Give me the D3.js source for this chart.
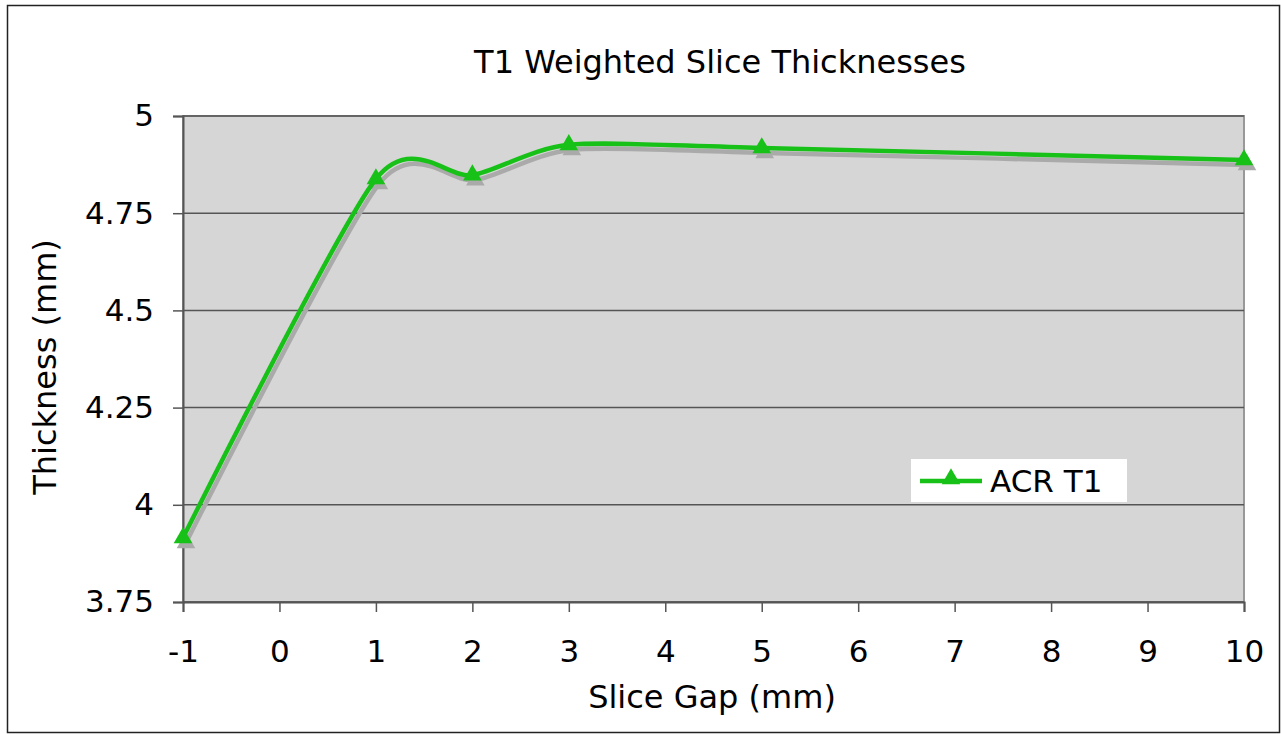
<!DOCTYPE html>
<html>
<head>
<meta charset="utf-8">
<script src="https://cdn.jsdelivr.net/npm/d3@7"></script>
<style>
  body { margin: 0; background: #fff; }
  text { font-family: "DejaVu Sans", Verdana, sans-serif; fill: #000; }
</style>
</head>
<body>
<div id="wrapper"></div>
<script>
// data
const sliceGap = [-1, 1, 2, 3, 5, 10]
const thickness = [3.915, 4.838, 4.848, 4.926, 4.918, 4.887]
const xTicks = [-1, 0, 1, 2, 3, 4, 5, 6, 7, 8, 9, 10]
const yTicks = [3.75, 4, 4.25, 4.5, 4.75, 5]
const seriesName = "ACR T1"

function drawChart(){
    const dataset = sliceGap.map((g, i) => [g, thickness[i]])
    const xAccessor = d => d[0]
    const yAccessor = d => d[1]

    let dimensions = {
        width: 1281,
        height: 734,
        margin: { top: 116, right: 37, bottom: 132, left: 183 },
    }
    dimensions.boundedWidth = dimensions.width - dimensions.margin.left - dimensions.margin.right
    dimensions.boundedHeight = dimensions.height - dimensions.margin.top - dimensions.margin.bottom

    const wrapper = d3.select("#wrapper")
        .append("svg")
        .attr("width", dimensions.width)
        .attr("height", dimensions.height)

    // outer frame
    wrapper.append("rect")
        .attr("x", 7.5).attr("y", 5.5)
        .attr("width", 1272).attr("height", 727)
        .attr("fill", "#fff")
        .attr("stroke", "#222")
        .attr("stroke-width", 1.5)

    const bounds = wrapper.append("g")
        .attr("transform", `translate(${dimensions.margin.left},${dimensions.margin.top})`)

    const xScale = d3.scaleLinear()
        .domain([-1, 10])
        .range([0, dimensions.boundedWidth])
    const yScale = d3.scaleLinear()
        .domain([3.75, 5])
        .range([dimensions.boundedHeight, 0])

    // plot area
    bounds.append("rect")
        .attr("width", dimensions.boundedWidth)
        .attr("height", dimensions.boundedHeight)
        .attr("fill", "#d6d6d6")
        .attr("stroke", "#999")
        .attr("stroke-width", 2)

    // gridlines
    bounds.append("g")
        .selectAll("line")
        .data(yTicks)
        .join("line")
        .attr("x1", 0)
        .attr("x2", dimensions.boundedWidth)
        .attr("y1", d => yScale(d))
        .attr("y2", d => yScale(d))
        .attr("stroke", "#555")
        .attr("stroke-width", 1.5)

    // axes
    const xAxisGenerator = d3.axisBottom(xScale)
        .tickValues(xTicks)
        .tickSize(10)
        .tickPadding(28)
        .tickFormat(d => String(d))
    const yAxisGenerator = d3.axisLeft(yScale)
        .tickValues(yTicks)
        .tickSize(10)
        .tickPadding(19)
        .tickFormat(d => String(d))

    const xAxis = bounds.append("g")
        .attr("transform", `translate(0,${dimensions.boundedHeight})`)
        .call(xAxisGenerator)
    const yAxis = bounds.append("g")
        .call(yAxisGenerator)

    ;[xAxis, yAxis].forEach(ax => {
        ax.select(".domain").attr("stroke", "#555").attr("stroke-width", 2)
        ax.selectAll(".tick line").attr("stroke", "#555").attr("stroke-width", 1.5)
        ax.selectAll(".tick text")
            .attr("font-size", 31)
            .attr("font-family", "DejaVu Sans")
            .attr("fill", "#000")
    })

    // line (smoothed) with shadow
    const lineGenerator = d3.line()
        .x(d => xScale(xAccessor(d)))
        .y(d => yScale(yAccessor(d)))
        .curve(d3.curveCardinal.tension(0.25))

    const triangle = d3.symbol().type(d3.symbolTriangle).size(150)

    const shadow = bounds.append("g").attr("transform", "translate(3,5)")
    shadow.append("path")
        .attr("d", lineGenerator(dataset))
        .attr("fill", "none")
        .attr("stroke", "#aaa")
        .attr("stroke-width", 4.5)
    shadow.selectAll("path.m")
        .data(dataset)
        .join("path")
        .attr("class", "m")
        .attr("d", triangle)
        .attr("transform", d => `translate(${xScale(xAccessor(d))},${yScale(yAccessor(d))})`)
        .attr("fill", "#aaa")

    bounds.append("path")
        .attr("d", lineGenerator(dataset))
        .attr("fill", "none")
        .attr("stroke", "#17c117")
        .attr("stroke-width", 4.5)
    bounds.selectAll("path.marker")
        .data(dataset)
        .join("path")
        .attr("class", "marker")
        .attr("d", triangle)
        .attr("transform", d => `translate(${xScale(xAccessor(d))},${yScale(yAccessor(d))})`)
        .attr("fill", "#17c117")

    // titles
    wrapper.append("text")
        .attr("x", 720).attr("y", 73)
        .attr("text-anchor", "middle")
        .attr("font-size", 32)
        .text("T1 Weighted Slice Thicknesses")
    wrapper.append("text")
        .attr("x", 712).attr("y", 708)
        .attr("text-anchor", "middle")
        .attr("font-size", 32)
        .text("Slice Gap (mm)")
    wrapper.append("text")
        .attr("transform", "translate(56,367) rotate(-90)")
        .attr("text-anchor", "middle")
        .attr("font-size", 32)
        .text("Thickness (mm)")

    // legend
    const legend = wrapper.append("g").attr("transform", "translate(911,459)")
    legend.append("rect")
        .attr("width", 216).attr("height", 43)
        .attr("fill", "#fff")
    legend.append("line")
        .attr("x1", 9).attr("x2", 71)
        .attr("y1", 22).attr("y2", 22)
        .attr("stroke", "#17c117")
        .attr("stroke-width", 4.5)
    legend.append("path")
        .attr("d", triangle)
        .attr("transform", "translate(40,20)")
        .attr("fill", "#17c117")
    legend.append("text")
        .attr("x", 79).attr("y", 33)
        .attr("font-size", 31)
        .text(seriesName)
}

drawChart()
</script>
</body>
</html>
